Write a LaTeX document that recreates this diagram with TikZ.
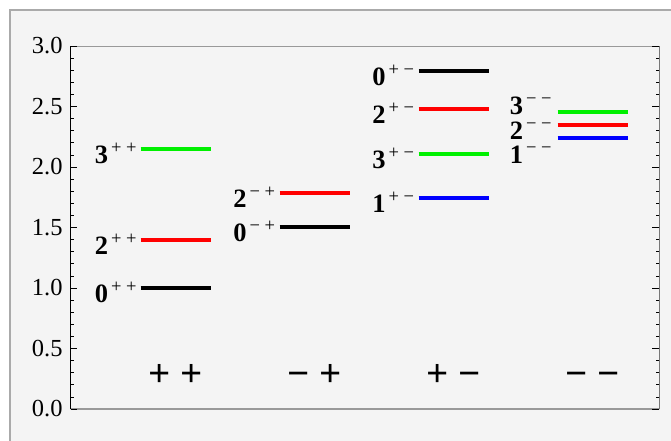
\documentclass[tikz,border=0pt]{standalone}
\usepackage{fontspec}
\setmainfont{Liberation Serif}
\definecolor{panel}{HTML}{F4F4F4}
\definecolor{framegrey}{HTML}{AAAAAA}
\definecolor{axisgrey}{HTML}{999999}
\definecolor{rightgrey}{HTML}{777777}
\definecolor{lvgreen}{RGB}{0,240,0}
\definecolor{lvred}{RGB}{255,0,0}
\definecolor{lvblue}{RGB}{0,0,255}
% state label: bold spin, small signs raised
\newcommand{\jpc}[3]{{\bfseries #1}\hspace{3pt}\raisebox{10pt}{\fontsize{18.5}{18}\selectfont #2\hspace{4.5pt}#3}}
\tikzset{
  level/.style={line width=4pt},
  ticklabel/.style={anchor=east, inner sep=0pt, font=\fontsize{24.5}{26}\selectfont},
  statelabel/.style={anchor=base east, inner sep=0pt, yshift=-14.5pt, font=\fontsize{26.5}{28}\selectfont},
  stacklabel/.style={anchor=base east, inner sep=0pt, font=\fontsize{26.5}{28}\selectfont},
  classlabel/.style={anchor=base, inner sep=0pt, font=\fontsize{39}{40}\selectfont\bfseries}
}
\begin{document}
\begin{tikzpicture}[x=1pt,y=1pt]
  \useasboundingbox (0,0) rectangle (671,441);
  \fill[white] (0,0) rectangle (671,441);
  \begin{scope}
    \clip (0,0) rectangle (671,441);
    \filldraw[fill=panel, draw=framegrey, line width=2pt] (10,-20) rectangle (700,431);
  \end{scope}
  \begin{scope}[x=1pt, y=121pt, shift={(70.7pt,32pt)}]
    % frame of the plot
    \draw[axisgrey, line width=0.8pt] (0,3) -- (588.6,3);
    \draw[axisgrey, line width=1.5pt] (0,0) -- (588.6,0);
    \draw[rightgrey, line width=1.5pt] (588.6,0) -- (588.6,3);
    \draw[black, line width=0.8pt] (0,0) -- (0,3);
    \foreach \i in {0,...,30} {
      \draw[line width=0.7pt] (0,\i/10) -- ++(3.3,0);
      \draw[line width=0.7pt] (588.6,\i/10) -- ++(-3.6,0);
    }
    \foreach \i/\t in {0/0.0,5/0.5,10/1.0,15/1.5,20/2.0,25/2.5,30/3.0} {
      \draw[line width=0.7pt] (0,\i/10) -- ++(6.7,0);
      \draw[line width=0.7pt] (588.6,\i/10) -- ++(-7,0);
      \node[ticklabel] (tick\i) at (-8,\i/10) {\t};
    }
    % ++
    \draw[level, lvgreen] (70,2.149) -- (140,2.149);
    \draw[level, lvred] (70,1.397) -- (140,1.397);
    \draw[level, black] (70,1.002) -- (140,1.002);
    \node[statelabel] (threepp) at (66,2.149) {\jpc{3}{+}{+}};
    \node[statelabel] (twopp) at (66,1.397) {\jpc{2}{+}{+}};
    \node[statelabel] (zeropp) at (66,1.002) {\jpc{0}{+}{+}};
    % -+
    \draw[level, lvred] (209,1.783) -- (279,1.783);
    \draw[level, black] (209,1.500) -- (279,1.500);
    \node[statelabel] (twomp) at (204.5,1.783) {\jpc{2}{−}{+}};
    \node[statelabel] (zeromp) at (204.5,1.500) {\jpc{0}{−}{+}};
    % +-
    \draw[level, black] (348,2.796) -- (418,2.796);
    \draw[level, lvred] (348,2.477) -- (418,2.477);
    \draw[level, lvgreen] (348,2.107) -- (418,2.107);
    \draw[level, lvblue] (348,1.744) -- (418,1.744);
    \node[statelabel] (zeropm) at (343.5,2.796) {\jpc{0}{+}{−}};
    \node[statelabel] (twopm) at (343.5,2.477) {\jpc{2}{+}{−}};
    \node[statelabel] (threepm) at (343.5,2.107) {\jpc{3}{+}{−}};
    \node[statelabel] (onepm) at (343.5,1.744) {\jpc{1}{+}{−}};
    % --
    \draw[level, lvgreen] (487,2.455) -- (557,2.455);
    \draw[level, lvred] (487,2.345) -- (557,2.345);
    \draw[level, lvblue] (487,2.242) -- (557,2.242);
    \node[stacklabel] (threemm) at (481,2.434) {\jpc{3}{−}{−}};
    \node[stacklabel] (twomm) at (481,2.231) {\jpc{2}{−}{−}};
    \node[stacklabel] (onemm) at (481,2.029) {\jpc{1}{−}{−}};
    % classes
    \node[classlabel] (pp) at (105,0.185) {+ +};
    \node[classlabel] (mp) at (244,0.185) {− +};
    \node[classlabel] (pm) at (383,0.185) {+ −};
    \node[classlabel] (mm) at (522,0.185) {− −};
  \end{scope}
\end{tikzpicture}
\end{document}
